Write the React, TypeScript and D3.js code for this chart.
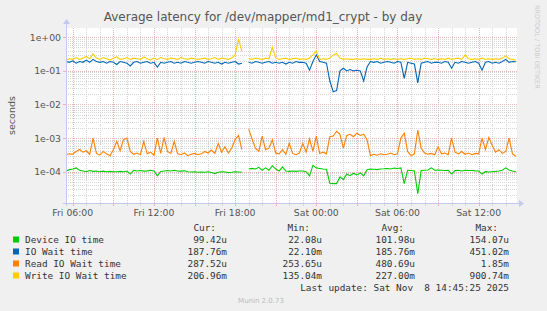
import React from 'react';
import * as d3 from 'd3';

const W = 547;
const H = 311;

// time window of the "by day" graph, samples every 15 min
const START = new Date(2025, 10, 7, 5, 30);
const END = new Date(2025, 10, 8, 14, 50);
const STEP_MIN = 15;

// seconds, null = no data
const deviceIO = [
  1.05e-4, 1.15e-4, 1.2e-4, 1.3e-4, 1.1e-4, 1.05e-4, 1.0e-4, 1.08e-4, 1.02e-4, 1.05e-4,
  1.0e-4, 1.04e-4, 1.0e-4, 1.02e-4, 1.0e-4, 1.0e-4, 1.02e-4, 1.0e-4, 1.05e-4, 8.5e-5,
  1.1e-4, 1.05e-4, 1.08e-4, 1.04e-4, 1.06e-4, 1.1e-4, 1.05e-4, 7.5e-5, 1.02e-4, 1.05e-4,
  1.08e-4, 1.05e-4, 1.1e-4, 1.05e-4, 1.04e-4, 1.06e-4, 1.0e-4, 9.8e-5, 1.0e-4, 9.6e-5,
  9.8e-5, 9.6e-5, 1.0e-4, 9.4e-5, 8.8e-5, 9.6e-5, 1.0e-4, 9.8e-5, 9.4e-5, 9.6e-5,
  1.0e-4, 9.8e-5, 9.6e-5, null, 1.2e-4, 1.25e-4, 1.2e-4, 1.35e-4, 1.1e-4, 1.3e-4,
  1.1e-4, 1.5e-4, 1.2e-4, 1.05e-4, 1.4e-4, 1.05e-4, 1.02e-4, 1.05e-4, 1.02e-4, 1.05e-4,
  1.05e-4, 1.0e-4, 7.5e-5, 1.55e-4, 1.3e-4, 1.25e-4, 1.2e-4, 1.18e-4, 4.5e-5, 4.4e-5,
  4.4e-5, 7.0e-5, 5.8e-5, 8.5e-5, 7.6e-5, 9.0e-5, 8.0e-5, 9.2e-5, 7.5e-5, 1.15e-4,
  1.2e-4, 1.18e-4, 1.15e-4, 1.2e-4, 1.22e-4, 1.25e-4, 1.2e-4, 1.28e-4, 1.25e-4, 1.3e-4,
  4.4e-5, 1.1e-4, 1.08e-4, 1.05e-4, 2.2e-5, 1.08e-4, 1.1e-4, 1.12e-4, 1.3e-4, 1.1e-4,
  1.12e-4, 1.1e-4, 1.08e-4, 1.1e-4, 8.5e-5, 1.08e-4, 1.1e-4, 1.05e-4, 1.1e-4, 1.08e-4,
  1.08e-4, 1.06e-4, 1.05e-4, 8.5e-5, 1.0e-4, 9.8e-5, 1.0e-4, 1.02e-4, 1.05e-4, 1.1e-4,
  1.3e-4, 1.12e-4, 1.05e-4, 9.94e-5,
];

const ioWait = [
  0.19, 0.18, 0.20, 0.17, 0.19, 0.18, 0.21, 0.18, 0.22, 0.19,
  0.18, 0.19, 0.17, 0.19, 0.18, 0.155, 0.19, 0.18, 0.17, 0.14,
  0.18, 0.19, 0.17, 0.18, 0.19, 0.17, 0.18, 0.13, 0.18, 0.17,
  0.18, 0.19, 0.17, 0.18, 0.17, 0.19, 0.18, 0.17, 0.18, 0.19,
  0.18, 0.17, 0.19, 0.18, 0.17, 0.18, 0.16, 0.18, 0.17, 0.18,
  0.19, 0.16, 0.17, null, 0.18, 0.17, 0.19, 0.18, 0.17, 0.18,
  0.19, 0.17, 0.18, 0.17, 0.18, 0.16, 0.18, 0.17, 0.19, 0.18,
  0.18, 0.17, 0.105, 0.19, 0.30, 0.19, 0.18, 0.17, 0.05, 0.024,
  0.026, 0.10, 0.12, 0.10, 0.11, 0.10, 0.105, 0.10, 0.05, 0.13,
  0.19, 0.18, 0.19, 0.17, 0.18, 0.19, 0.18, 0.17, 0.19, 0.18,
  0.06, 0.18, 0.17, 0.16, 0.044, 0.17, 0.18, 0.19, 0.17, 0.18,
  0.18, 0.17, 0.19, 0.18, 0.12, 0.18, 0.17, 0.19, 0.18, 0.17,
  0.18, 0.19, 0.17, 0.105, 0.18, 0.19, 0.17, 0.18, 0.17, 0.19,
  0.22, 0.18, 0.19, 0.188,
];

const readWait = [
  3.2e-4, 3.4e-4, 3.3e-4, 4.0e-4, 4.6e-4, 3.8e-4, 4.2e-4, 3.3e-4, 1.0e-3, 3.5e-4,
  3.1e-4, 4.0e-4, 3.4e-4, 3.0e-4, 4.5e-4, 8.0e-4, 4.2e-4, 9.0e-4, 1.0e-3, 4.0e-4,
  3.3e-4, 3.6e-4, 3.2e-4, 8.0e-4, 3.4e-4, 3.8e-4, 3.1e-4, 1.0e-3, 3.5e-4, 1.05e-3,
  4.0e-4, 3.5e-4, 8.0e-4, 3.4e-4, 3.2e-4, 3.6e-4, 3.0e-4, 3.3e-4, 3.5e-4, 3.2e-4,
  3.4e-4, 4.0e-4, 3.6e-4, 4.4e-4, 3.5e-4, 7.0e-4, 3.8e-4, 5.5e-4, 3.6e-4, 5.0e-4,
  9.0e-4, 1.2e-3, 4.5e-4, null, 1.85e-3, 9.5e-4, 5.0e-4, 4.0e-4, 1.15e-3, 4.5e-4,
  5.0e-4, 8.8e-4, 3.6e-4, 3.4e-4, 4.5e-4, 3.3e-4, 7.0e-4, 3.5e-4, 3.2e-4, 3.6e-4,
  7.0e-4, 3.8e-4, 9.5e-4, 4.0e-4, 1.15e-3, 3.5e-4, 3.8e-4, 3.4e-4, 1.1e-3, 1.15e-3,
  1.6e-3, 1.3e-3, 5.0e-4, 1.2e-3, 1.3e-3, 1.1e-3, 1.4e-3, 1.2e-3, 1.3e-3, 9.0e-4,
  3.0e-4, 3.3e-4, 3.1e-4, 3.4e-4, 3.2e-4, 3.3e-4, 3.6e-4, 3.2e-4, 3.4e-4, 1.0e-3,
  1.4e-3, 4.0e-4, 3.0e-4, 3.4e-4, 1.74e-3, 5.0e-4, 3.6e-4, 3.3e-4, 3.5e-4, 3.2e-4,
  5.5e-4, 3.4e-4, 3.6e-4, 3.2e-4, 1.0e-3, 3.8e-4, 3.4e-4, 4.0e-4, 3.3e-4, 3.6e-4,
  3.2e-4, 3.5e-4, 3.4e-4, 1.0e-3, 4.5e-4, 1.05e-3, 6.0e-4, 3.8e-4, 4.5e-4, 3.5e-4,
  4.0e-4, 1.0e-3, 3.4e-4, 2.88e-4,
];

const writeWait = [
  0.21, 0.23, 0.22, 0.25, 0.22, 0.24, 0.27, 0.23, 0.32, 0.24,
  0.22, 0.25, 0.23, 0.21, 0.24, 0.26, 0.22, 0.23, 0.25, 0.22,
  0.24, 0.23, 0.22, 0.26, 0.23, 0.21, 0.24, 0.22, 0.25, 0.23,
  0.22, 0.24, 0.23, 0.22, 0.25, 0.23, 0.22, 0.24, 0.23, 0.22,
  0.23, 0.24, 0.22, 0.23, 0.25, 0.22, 0.24, 0.23, 0.22, 0.24,
  0.30, 0.90, 0.38, null, 0.23, 0.22, 0.24, 0.23, 0.22, 0.24,
  0.23, 0.51, 0.24, 0.22, 0.23, 0.24, 0.22, 0.23, 0.24, 0.22,
  0.23, 0.22, 0.24, 0.30, 0.39, 0.22, 0.23, 0.22, 0.24, 0.30,
  0.33, 0.24, 0.22, 0.23, 0.22, 0.22, 0.23, 0.22, 0.23, 0.22,
  0.22, 0.23, 0.22, 0.24, 0.22, 0.23, 0.22, 0.23, 0.22, 0.23,
  0.22, 0.23, 0.24, 0.22, 0.23, 0.22, 0.24, 0.23, 0.22, 0.23,
  0.22, 0.23, 0.22, 0.24, 0.22, 0.23, 0.24, 0.22, 0.30, 0.23,
  0.22, 0.23, 0.22, 0.24, 0.22, 0.23, 0.22, 0.23, 0.22, 0.24,
  0.28, 0.23, 0.22, 0.207,
];

const seriesNames = ['Device IO time', 'IO Wait time', 'Read IO Wait time', 'Write IO Wait time'];
const seriesColors = ['#00cc00', '#0066b3', '#ff8000', '#ffcc00'];
const seriesValues = [deviceIO, ioWait, readWait, writeWait];

const legendCur = ['99.42u', '187.76m', '287.52u', '206.96m'];
const legendMin = ['22.08u', '22.10m', '253.65u', '135.04m'];
const legendAvg = ['101.98u', '185.76m', '480.69u', '227.00m'];
const legendMax = ['154.07u', '451.02m', '1.85m', '900.74m'];
const legendHeaders = ['Cur:', 'Min:', 'Avg:', 'Max:'];

const yTickLabels = ['1e+00', '1e-01', '1e-02', '1e-03', '1e-04'];
const yTickValues = [1, 1e-1, 1e-2, 1e-3, 1e-4];

// plot frame
const L = 66, R = 517, T = 28, B = 203;

const sans = 'DejaVu Sans, sans-serif';
const mono = 'DejaVu Sans Mono, monospace';

const minorColor = '#d6d6d6';
const majorColor = '#eeb4b4';
const axisColor = '#c4c8ec';

export default function App() {
  const x = d3.scaleTime().domain([START, END]).range([L, R]);
  const y = d3.scaleLog().domain([Math.pow(10, -4.932), Math.pow(10, 0.277)]).range([B, T]);

  const timeAt = (i: number) => d3.timeMinute.offset(START, i * STEP_MIN);

  const line = d3.line<number | null>()
    .defined((d) => d != null)
    .x((_, i) => x(timeAt(i)))
    .y((d) => y(d as number));

  // log grid lines
  const minorY: number[] = [];
  for (let k = -5; k <= 0; k++) {
    for (let m = 2; m <= 9; m++) {
      const v = m * Math.pow(10, k);
      if (v >= y.domain()[0] && v <= y.domain()[1]) minorY.push(v);
    }
  }
  const hours = d3.timeHour.range(START, END);
  const labelTicks = d3.timeHour.every(6)!.range(START, END);
  const fmt = d3.timeFormat('%a %H:%M');

  const colX = [227, 322, 415, 509];
  const headX = [216, 310, 404, 498];
  const legendCols = [legendCur, legendMin, legendAvg, legendMax];
  const rowY = [243, 255, 267, 279];

  return (
    <svg width={W} height={H} style={{ position: 'absolute', left: 0, top: 0 }}>
      <rect width={W} height={H} fill="#f0f0f0" />
      <rect x={L} y={T} width={R - L} height={B - T} fill="#ffffff" />

      {/* grid */}
      {minorY.map((v) => (
        <line key={'my' + v} x1={L} x2={R} y1={Math.round(y(v)) + 0.5} y2={Math.round(y(v)) + 0.5}
          stroke={minorColor} strokeDasharray="1,1" />
      ))}
      {hours.map((h) => (
        <line key={'vx' + h.getTime()} x1={Math.round(x(h)) + 0.5} x2={Math.round(x(h)) + 0.5} y1={T} y2={B}
          stroke={h.getHours() % 3 === 0 ? majorColor : minorColor} strokeDasharray="1,1" />
      ))}
      {yTickValues.map((v) => (
        <line key={'My' + v} x1={L} x2={R} y1={Math.round(y(v)) + 0.5} y2={Math.round(y(v)) + 0.5}
          stroke={majorColor} strokeDasharray="1,1" />
      ))}

      {/* series */}
      {seriesValues.map((vals, i) => (
        <path key={seriesNames[i]} d={line(vals) || ''} fill="none" stroke={seriesColors[i]} strokeWidth={1.1} />
      ))}

      {/* axes */}
      <line x1={L - 3} x2={R + 2} y1={B + 0.5} y2={B + 0.5} stroke={axisColor} />
      <line x1={L + 0.5} x2={L + 0.5} y1={T - 5} y2={B + 3} stroke={axisColor} />
      <path d={`M${R + 2},${B - 3} L${R + 7},${B + 0.5} L${R + 2},${B + 4} Z`} fill={axisColor} />
      <path d={`M${L - 3},${T - 4} L${L + 0.5},${T - 9} L${L + 4},${T - 4} Z`} fill={axisColor} />
      {hours.map((h) => (
        <line key={'tk' + h.getTime()} x1={Math.round(x(h)) + 0.5} x2={Math.round(x(h)) + 0.5} y1={B + 1} y2={B + 3}
          stroke={h.getHours() % 3 === 0 ? majorColor : minorColor} />
      ))}
      {yTickValues.map((v) => (
        <line key={'ty' + v} x1={L - 3} x2={L} y1={Math.round(y(v)) + 0.5} y2={Math.round(y(v)) + 0.5} stroke={majorColor} />
      ))}

      {/* y labels */}
      {yTickValues.map((v, i) => (
        <text key={'yl' + v} x={L - 5} y={y(v) + 3.5} textAnchor="end" fontFamily={sans} fontSize={9.3} fill="#555">
          {yTickLabels[i]}
        </text>
      ))}
      <text transform={`translate(15,${(T + B) / 2}) rotate(-90)`} textAnchor="middle" fontFamily={sans}
        fontSize={9.5} fill="#555">seconds</text>

      {/* x labels */}
      {labelTicks.map((t) => (
        <text key={'xl' + t.getTime()} x={x(t)} y={216} textAnchor="middle" fontFamily={sans} fontSize={9.3} fill="#555">
          {fmt(t)}
        </text>
      ))}

      {/* title */}
      <text x={263} y={21} textAnchor="middle" fontFamily={sans} fontSize={12} fill="#555">
        Average latency for /dev/mapper/md1_crypt - by day
      </text>
      <text transform="translate(535,5) rotate(90)" fontFamily={sans} fontSize={6.5} fill="#cccccc">
        RRDTOOL / TOBI OETIKER
      </text>

      {/* legend */}
      {legendHeaders.map((h, j) => (
        <text key={h} x={headX[j]} y={231} textAnchor="end" fontFamily={mono} fontSize={9.4} fill="#333">{h}</text>
      ))}
      {seriesNames.map((n, i) => (
        <g key={'lg' + n}>
          <rect x={13} y={rowY[i] - 6.5} width={6} height={6} fill={seriesColors[i]} />
          <text x={25} y={rowY[i]} fontFamily={mono} fontSize={9.4} fill="#333">{n}</text>
          {legendCols.map((col, j) => (
            <text key={j} x={colX[j]} y={rowY[i]} textAnchor="end" fontFamily={mono} fontSize={9.4} fill="#333">
              {col[i]}
            </text>
          ))}
        </g>
      ))}
      <text x={509} y={291} textAnchor="end" fontFamily={mono} fontSize={9.4} fill="#333" style={{ whiteSpace: 'pre' }}>
        {'Last update: Sat Nov  8 14:45:25 2025'}
      </text>
      <text x={261} y={303} textAnchor="middle" fontFamily={sans} fontSize={7} fill="#bbbbbb">Munin 2.0.73</text>
    </svg>
  );
}
